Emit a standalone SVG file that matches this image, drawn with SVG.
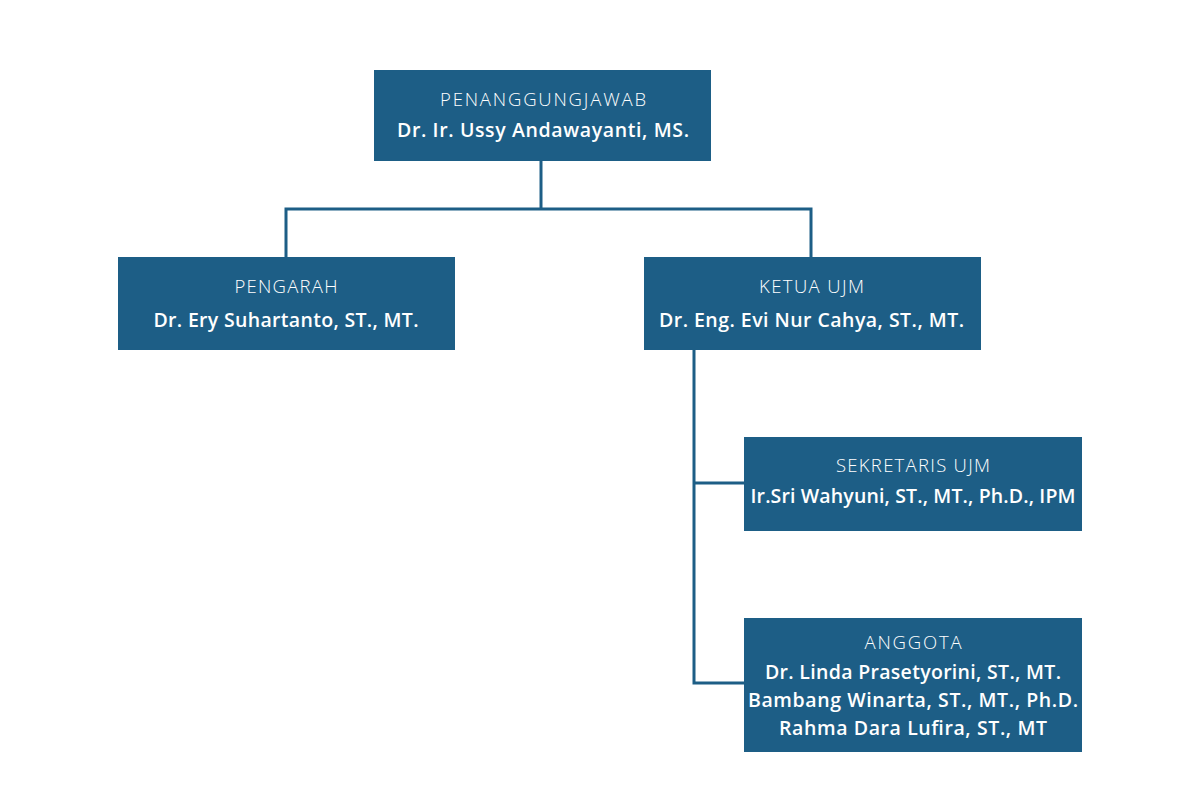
<svg xmlns="http://www.w3.org/2000/svg" width="1200" height="800" viewBox="0 0 1200 800">
<style>
.box{fill:#1d5e86;}
.t{font-family:"Open Sans","Liberation Sans",sans-serif;font-size:18.5px;font-weight:300;fill:#ffffff;text-anchor:middle;}
.n{font-family:"Open Sans","Liberation Sans",sans-serif;font-size:19.5px;font-weight:600;fill:#ffffff;text-anchor:middle;}
.c{fill:none;stroke:#1d5e86;stroke-width:3;stroke-linejoin:miter;}
</style>
<rect width="1200" height="800" fill="#ffffff"/>
<g id="connectors">
<path class="c" d="M541 161 V209"/>
<path class="c" d="M286 257 V209 H811 V257"/>
<path class="c" d="M694 350 V683 H744"/>
<path class="c" d="M694 483 H744"/>
</g>
<g id="penanggungjawab">
<rect class="box" x="374" y="70" width="337" height="91"/>
<text class="t" x="543" y="106" textLength="206" lengthAdjust="spacing">PENANGGUNGJAWAB</text>
<text class="n" x="543" y="137" textLength="292" lengthAdjust="spacing">Dr. Ir. Ussy Andawayanti, MS.</text>
</g>
<g id="pengarah">
<rect class="box" x="118" y="257" width="337" height="93"/>
<text class="t" x="286" y="293" textLength="103" lengthAdjust="spacing">PENGARAH</text>
<text class="n" x="286" y="327" textLength="265" lengthAdjust="spacing">Dr. Ery Suhartanto, ST., MT.</text>
</g>
<g id="ketua">
<rect class="box" x="644" y="257" width="337" height="93"/>
<text class="t" x="811.5" y="293" textLength="105" lengthAdjust="spacing">KETUA UJM</text>
<text class="n" x="811.5" y="327" textLength="305" lengthAdjust="spacing">Dr. Eng. Evi Nur Cahya, ST., MT.</text>
</g>
<g id="sekretaris">
<rect class="box" x="744" y="437" width="338" height="94"/>
<text class="t" x="913" y="472" textLength="154" lengthAdjust="spacing">SEKRETARIS UJM</text>
<text class="n" x="913" y="503" textLength="325" lengthAdjust="spacing">Ir.Sri Wahyuni, ST., MT., Ph.D., IPM</text>
</g>
<g id="anggota">
<rect class="box" x="744" y="618" width="338" height="134"/>
<text class="t" x="913" y="649" textLength="97" lengthAdjust="spacing">ANGGOTA</text>
<text class="n" x="913" y="679" textLength="296" lengthAdjust="spacing">Dr. Linda Prasetyorini, ST., MT.</text>
<text class="n" x="913" y="707" textLength="330" lengthAdjust="spacing">Bambang Winarta, ST., MT., Ph.D.</text>
<text class="n" x="913" y="735" textLength="268" lengthAdjust="spacing">Rahma Dara Lufira, ST., MT</text>
</g>
</svg>
